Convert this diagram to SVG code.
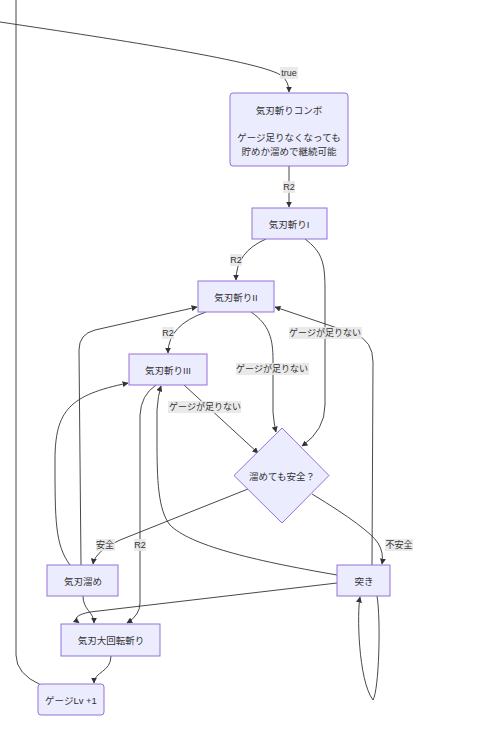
<svg xmlns="http://www.w3.org/2000/svg" width="500" height="754" viewBox="0 0 500 754">
<style>
.node rect,.node polygon{fill:#ECECFF;stroke:#9370DB;stroke-width:1}
text{font-family:"Liberation Sans","Noto Sans CJK JP",sans-serif;fill:#333;font-size:9.5px;text-anchor:middle;dominant-baseline:central}
.edge{fill:none;stroke:#333;stroke-width:0.9}
.lbl rect{fill:#e8e8e8;opacity:0.9}
.lbl text{font-size:9px}
</style>
<defs>
<marker id="arr" viewBox="0 0 10 10" refX="9" refY="5" markerWidth="6" markerHeight="6" markerUnits="userSpaceOnUse" orient="auto">
<path d="M0,0 L10,5 L0,10 z" fill="#333"/>
</marker>
</defs>
<rect width="500" height="754" fill="#fff"/>
<g id="connectors">
<path class="edge" d="M0,22 C120,40 265,62 282,76 Q289,82 289,92" marker-end="url(#arr)"/>
<path class="edge" d="M16,0 L16,655 Q16,674 41,685"/>
<path class="edge" d="M289,166 L289,207" marker-end="url(#arr)"/>
<path class="edge" d="M266,239 Q236,252 236,280" marker-end="url(#arr)"/>
<path class="edge" d="M305,239 C322,252 325,262 325,290 L325,405 Q325,430 302,446" marker-end="url(#arr)"/>
<path class="edge" d="M206,312 Q168,325 168,353" marker-end="url(#arr)"/>
<path class="edge" d="M251,312 C270,325 273,340 273,360 L273,412 Q274,424 276,432" marker-end="url(#arr)"/>
<path class="edge" d="M184,385 L258,453" marker-end="url(#arr)"/>
<path class="edge" d="M248,489 L120,540 Q95,551 93,564" marker-end="url(#arr)"/>
<path class="edge" d="M312,494 Q368,528 378,543 Q384,553 382,564" marker-end="url(#arr)"/>
<path class="edge" d="M372,565 L373,362 Q373,341 355,334 L275,307" marker-end="url(#arr)"/>
<path class="edge" d="M81,565 L79,350 Q79,334 95,330 L197,307" marker-end="url(#arr)"/>
<path class="edge" d="M70,565 C55,545 55,520 55,460 C55,410 70,395 128,383" marker-end="url(#arr)"/>
<path class="edge" d="M337,575 C250,560 190,545 170,525 C158,510 157,480 157,440 L157,410 Q158,395 161,386" marker-end="url(#arr)"/>
<path class="edge" d="M156,385 Q141,395 140,415 L140,603 Q140,615 127,623" marker-end="url(#arr)"/>
<path class="edge" d="M83,596 C83,610 94,612 94,623" marker-end="url(#arr)"/>
<path class="edge" d="M337,583 L90,612 Q70,616 79,623" marker-end="url(#arr)"/>
<path class="edge" d="M111,656 C111,672 94,672 94,683" marker-end="url(#arr)"/>
<path class="edge" d="M377,596 C381,620 379,690 373,700 C358,680 357,612 360,597" marker-end="url(#arr)"/>
</g>
<g id="edge-labels">
<g class="lbl"><rect x="280" y="67" width="18" height="12"/><text x="289" y="73">true</text></g>
<g class="lbl"><rect x="283" y="181" width="12" height="12"/><text x="289" y="187">R2</text></g>
<g class="lbl"><rect x="230" y="254" width="12" height="12"/><text x="236" y="260">R2</text></g>
<g class="lbl"><rect x="162" y="327" width="12" height="12"/><text x="168" y="333">R2</text></g>
<g class="lbl"><rect x="289" y="327" width="73" height="12"/><text x="325" y="333">ゲージが足りない</text></g>
<g class="lbl"><rect x="236" y="363" width="73" height="12"/><text x="272" y="369">ゲージが足りない</text></g>
<g class="lbl"><rect x="168" y="401" width="73" height="12"/><text x="205" y="407">ゲージが足りない</text></g>
<g class="lbl"><rect x="96" y="539" width="19" height="12"/><text x="105" y="545">安全</text></g>
<g class="lbl"><rect x="385" y="539" width="28" height="12"/><text x="399" y="545">不安全</text></g>
<g class="lbl"><rect x="134" y="539" width="12" height="12"/><text x="140" y="545">R2</text></g>
</g>
<g id="combo" class="node"><rect x="230" y="93" width="118" height="73" rx="3"/><text x="289" y="110">気刃斬りコンボ</text><text x="289" y="137">ゲージ足りなくなっても</text><text x="289" y="151">貯めか溜めで継続可能</text></g>
<g id="kijin1" class="node"><rect x="252" y="208" width="75" height="31"/><text x="289" y="224">気刃斬りI</text></g>
<g id="kijin2" class="node"><rect x="198" y="281" width="76" height="31"/><text x="236" y="297">気刃斬りII</text></g>
<g id="kijin3" class="node"><rect x="129" y="354" width="78" height="31"/><text x="168" y="370">気刃斬りIII</text></g>
<g id="safe" class="node"><polygon points="282,428 329,475.5 282,523 234,475.5"/><text x="282" y="476">溜めても安全？</text></g>
<g id="tame" class="node"><rect x="47" y="565" width="71" height="31"/><text x="83" y="581">気刃溜め</text></g>
<g id="tsuki" class="node"><rect x="337" y="565" width="53" height="31"/><text x="364" y="581">突き</text></g>
<g id="daikaiten" class="node"><rect x="61" y="624" width="99" height="32"/><text x="111" y="640">気刃大回転斬り</text></g>
<g id="gauge" class="node"><rect x="38" y="684" width="66" height="31" rx="3"/><text x="71" y="700">ゲージLv +1</text></g>
</svg>
